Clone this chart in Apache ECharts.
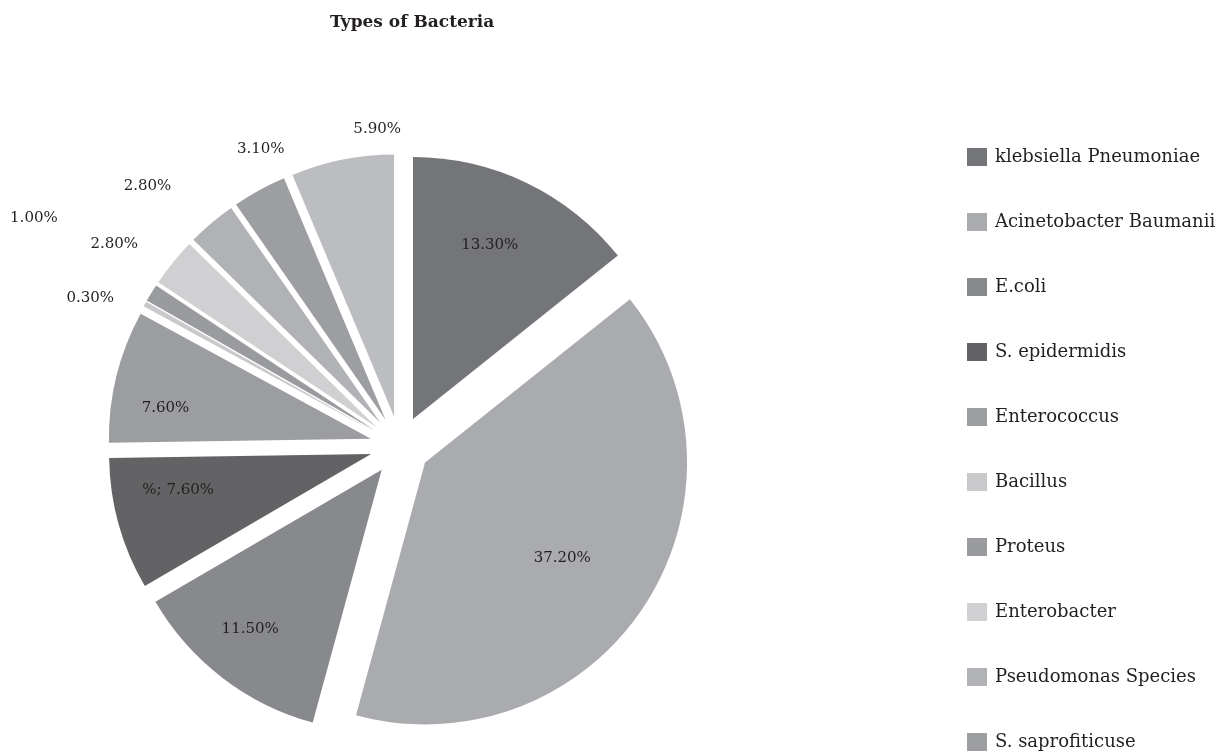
<!DOCTYPE html>
<html>
<head>
<meta charset="utf-8">
<script src="https://cdn.jsdelivr.net/npm/echarts@6/dist/echarts.min.js"></script>
<style>
  html, body { margin: 0; padding: 0; background: #ffffff; }
  #chart { width: 1232px; height: 754px; }
</style>
</head>
<body>
<div id="chart"></div>
<script>
// ---- data ----
const titleText = 'Types of Bacteria';
const categories = [
  'klebsiella Pneumoniae', 'Acinetobacter Baumanii', 'E.coli', 'S. epidermidis',
  'Enterococcus', 'Bacillus', 'Proteus', 'Enterobacter', 'Pseudomonas Species',
  'S. saprofiticuse', 'Other'
];
const values = [13.3, 37.2, 11.5, 7.6, 7.6, 0.3, 1.0, 2.8, 2.8, 3.1, 5.9];
const labelTexts = ['13.30%', '37.20%', '11.50%', '%; 7.60%', '7.60%', '0.30%', '1.00%', '2.80%', '2.80%', '3.10%', '5.90%'];
const legendNames = categories.slice(0, 10);

// ---- styles ----
const colors = ['#747579', '#aaabaf', '#88898d', '#636366', '#9c9da1', '#c9c9cb',
                '#9a9b9f', '#d0d0d2', '#b1b2b6', '#9d9ea2', '#bcbdc0'];
const insideLabel = [true, true, true, true, true, false, false, false, false, false, false];
const labelShift = [[-7, 0], [-24, -10], [-14, 6], [-7, -16], [-18, 15],
                    [-10, 19], [-74, -48], [-19, 14], [-31, 2], [26, 4], [45, 19]];
const textColor = '#231f20';
const serif = 'DejaVu Serif';
const CENTER = [400, 446];
const R = 262;
const OFFSET = 30;

const chart = echarts.init(document.getElementById('chart'), null, { renderer: 'canvas' });

function mainData() {
  return values.map((v, i) => ({
    name: categories[i], value: v, selected: true,
    itemStyle: { color: colors[i] }
  }));
}
function labelData(showInside) {
  return values.map((v, i) => ({
    name: categories[i], value: v, selected: true,
    label: { show: insideLabel[i] === showInside, formatter: labelTexts[i] }
  }));
}
const labelStyle = {
  position: 'inside', color: textColor, fontFamily: serif, fontSize: 15,
  textBorderWidth: 0
};
function shiftLayout(p) {
  const s = labelShift[p.dataIndex];
  return { dx: s[0], dy: s[1] };
}

const helperCommon = {
  type: 'pie', center: CENTER, silent: true, legendHoverLink: false,
  selectedMode: 'multiple', selectedOffset: OFFSET, avoidLabelOverlap: false,
  startAngle: 90, clockwise: true, animation: false,
  itemStyle: { color: 'rgba(0,0,0,0)', borderWidth: 0 },
  select: { itemStyle: { color: 'rgba(0,0,0,0)', borderWidth: 0 } },
  emphasis: { disabled: true },
  labelLine: { show: false },
  labelLayout: shiftLayout
};

const option = {
  animation: false,
  backgroundColor: '#ffffff',
  title: {
    text: titleText, left: 325, top: 9,
    textStyle: { fontFamily: serif, fontWeight: 'bold', fontSize: 17, color: textColor }
  },
  legend: {
    data: legendNames, orient: 'vertical', left: 967, top: 148, padding: 0,
    itemWidth: 20, itemHeight: 18, itemGap: 47, icon: 'rect',
    selectedMode: false,
    textStyle: { fontFamily: serif, fontSize: 18, color: textColor, lineHeight: 18, padding: [0, 0, 0, 3] }
  },
  series: [
    {
      type: 'pie', name: 'Types of Bacteria', center: CENTER, radius: R,
      startAngle: 90, clockwise: true,
      selectedMode: 'multiple', selectedOffset: OFFSET, avoidLabelOverlap: false,
      itemStyle: { borderWidth: 0 },
      select: { itemStyle: { borderWidth: 0 } },
      emphasis: { disabled: true },
      label: { show: false }, labelLine: { show: false },
      data: mainData()
    },
    Object.assign({}, helperCommon, {
      radius: [0, 380], label: labelStyle, data: labelData(true)
    }),
    Object.assign({}, helperCommon, {
      radius: [290, 330], label: labelStyle, data: labelData(false)
    })
  ]
};
chart.setOption(option);
</script>
</body>
</html>
